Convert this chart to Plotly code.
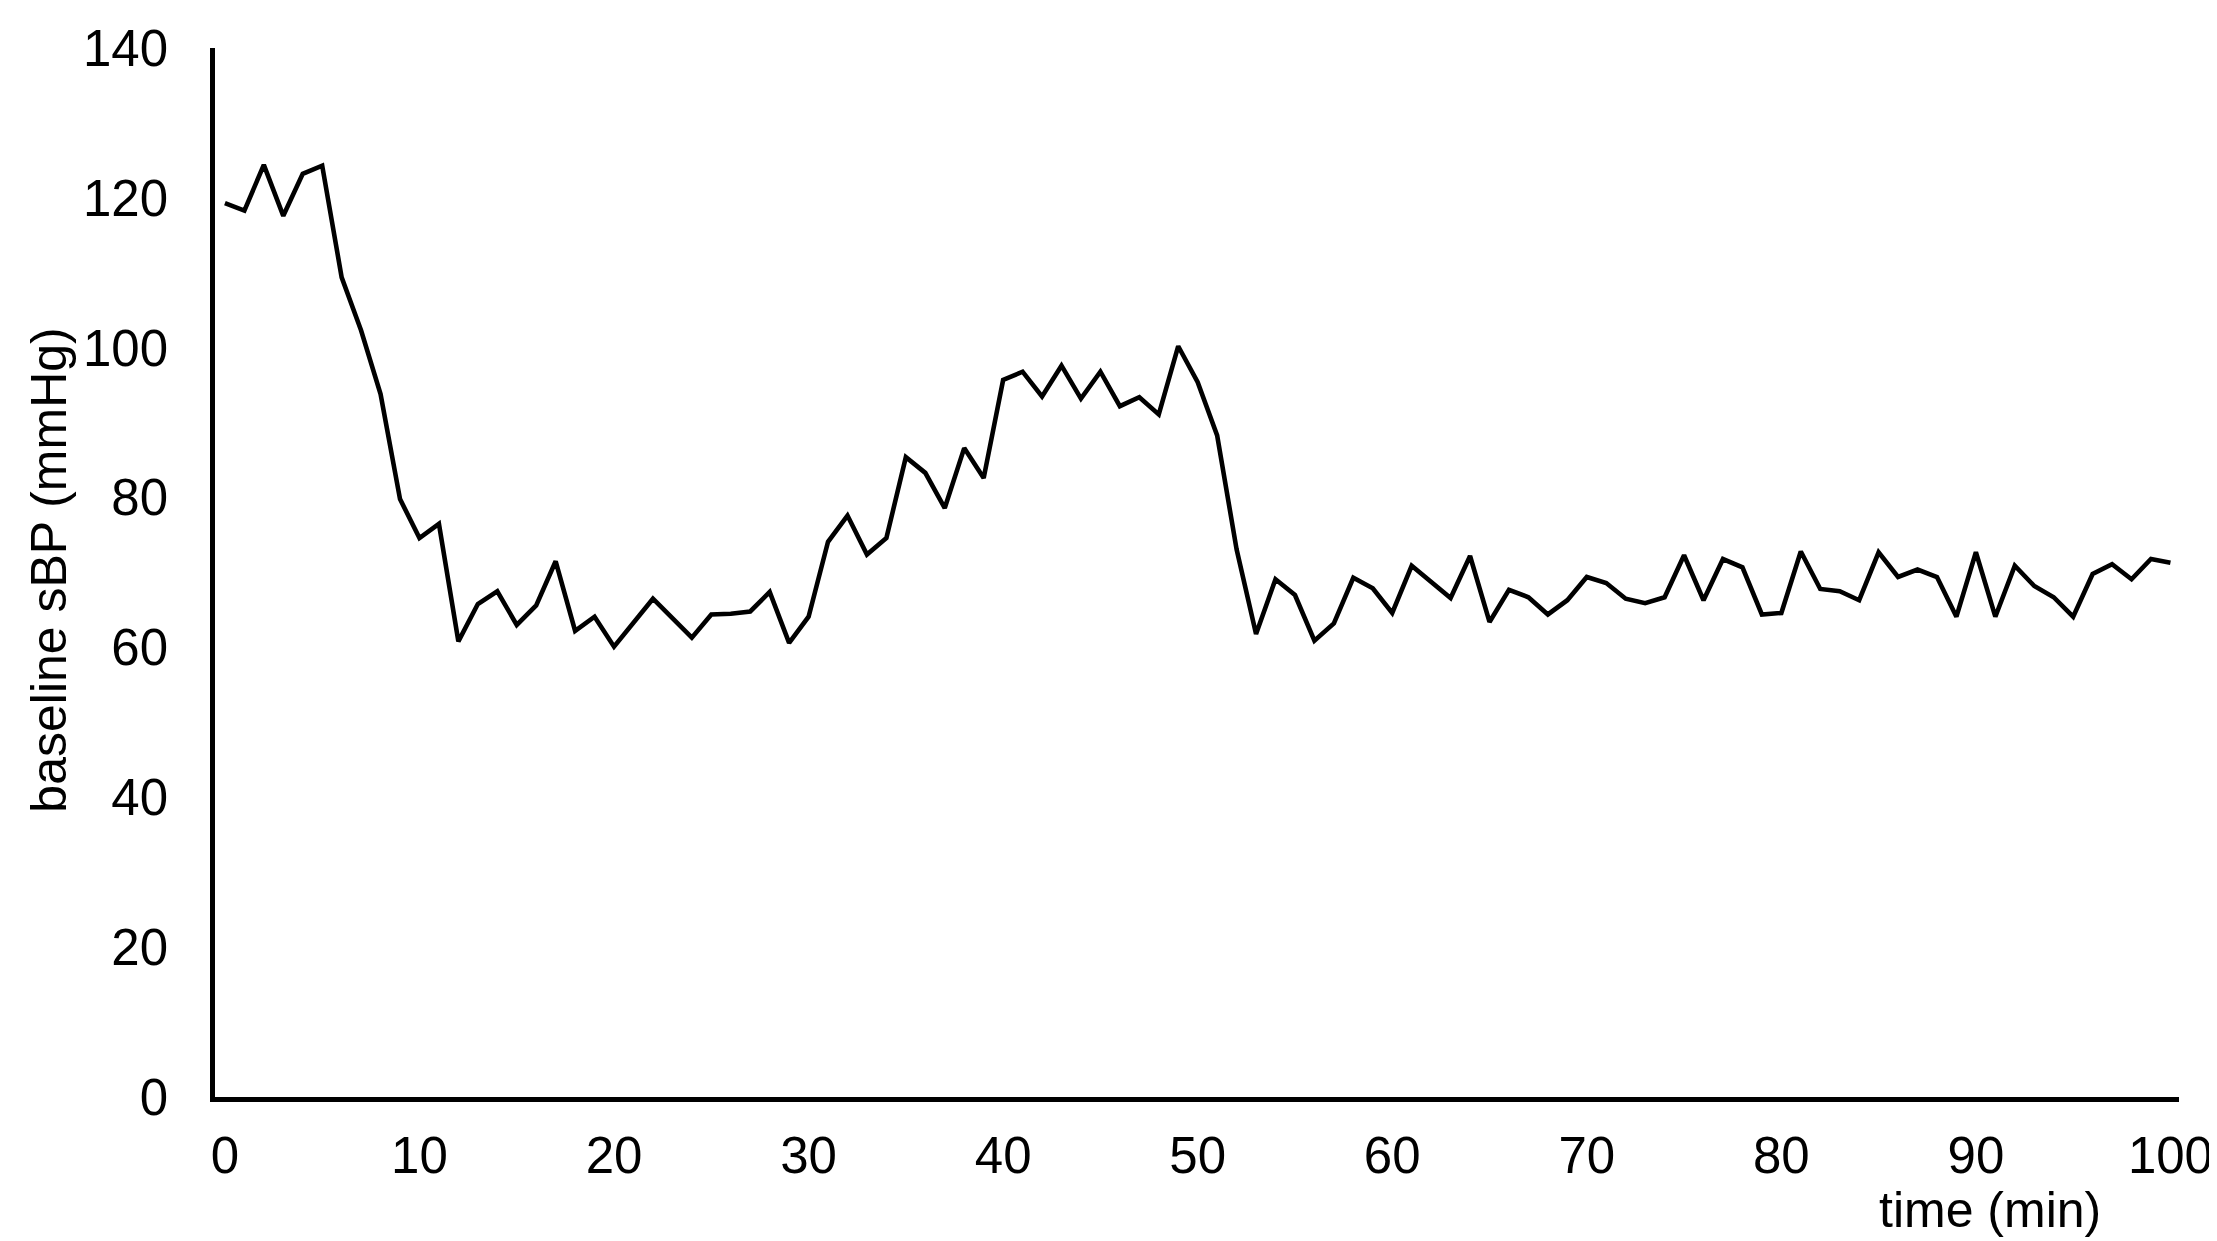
import plotly.graph_objects as go

# time in minutes, one reading per minute
minutes = list(range(0, 101))

# baseline systolic BP (mmHg)
sbp = [
    119.3, 118.3, 124.4, 117.6, 123.2, 124.3, 109.4, 102.3, 93.8, 79.8,
    74.6, 76.5, 60.8, 65.8, 67.5, 63.0, 65.6, 71.5, 62.2, 64.1,
    60.1, 63.3, 66.5, 63.9, 61.3, 64.4, 64.5, 64.8, 67.4, 60.6,
    64.1, 74.1, 77.6, 72.4, 74.6, 85.4, 83.3, 78.6, 86.6, 82.6,
    95.7, 96.8, 93.5, 97.6, 93.2, 96.8, 92.2, 93.4, 91.1, 100.2,
    95.4, 88.3, 73.1, 61.8, 69.1, 67.0, 60.9, 63.2, 69.3, 67.9,
    64.6, 70.9, 68.8, 66.6, 72.2, 63.4, 67.7, 66.7, 64.4, 66.3,
    69.4, 68.6, 66.5, 65.9, 66.7, 72.3, 66.3, 71.8, 70.7, 64.4,
    64.6, 72.8, 67.8, 67.5, 66.3, 72.7, 69.4, 70.4, 69.4, 64.1,
    72.7, 64.1, 70.9, 68.2, 66.7, 64.1, 69.8, 71.1, 69.1, 71.8,
    71.3,
]

x_ticks = [0, 10, 20, 30, 40, 50, 60, 70, 80, 90, 100]
y_ticks = [0, 20, 40, 60, 80, 100, 120, 140]

FONT = "Arial, Liberation Sans, sans-serif"

fig = go.Figure()
fig.add_trace(go.Scatter(
    x=minutes, y=sbp, mode="lines",
    line=dict(color="black", width=4.6),
    showlegend=False,
))

fig.update_layout(
    width=2217, height=1241,
    margin=dict(l=207, r=43, t=33, b=152),
    plot_bgcolor="white", paper_bgcolor="white",
    font=dict(family=FONT, size=50, color="black"),
    xaxis=dict(
        range=[-0.51, 100.44], tickvals=x_ticks, ticks="",
        showgrid=False, zeroline=False,
        showline=True, linecolor="black", linewidth=4.5,
        tickfont=dict(size=51), ticklabelstandoff=10,
    ),
    yaxis=dict(
        range=[0, 140], tickvals=y_ticks, ticks="",
        showgrid=False, zeroline=False,
        showline=True, linecolor="black", linewidth=4.5,
        tickfont=dict(size=51), ticklabelstandoff=32,
    ),
    annotations=[
        dict(text="time (min)", xref="paper", yref="paper",
             x=0.904, y=-0.108, xanchor="center", yanchor="middle",
             showarrow=False, font=dict(size=50)),
        dict(text="baseline sBP (mmHg)", xref="paper", yref="paper",
             x=-0.0844, y=0.502, xanchor="center", yanchor="middle",
             textangle=-90, showarrow=False, font=dict(size=50)),
    ],
)

fig.write_html("out.html")
